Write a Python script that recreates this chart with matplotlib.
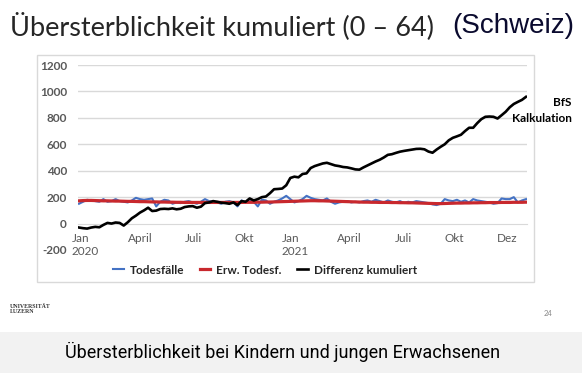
import numpy as np
import matplotlib
matplotlib.use("Agg")
import matplotlib.pyplot as plt
from matplotlib.patches import Rectangle

# weekly values, Jan 2020 ... early 2022
todesfaelle = [150, 165, 180, 175, 170, 165, 185, 165, 170, 185, 170, 165, 160, 175, 195, 185,
               180, 185, 190, 130, 165, 180, 175, 150, 160, 155, 165, 170, 160, 150, 165, 185,
               170, 165, 160, 150, 165, 170, 160, 130, 175, 160, 185, 165, 130, 180, 175, 150,
               165, 175, 190, 210, 185, 160, 170, 185, 210, 195, 185, 180, 175, 190, 165, 150,
               160, 165, 170, 160, 165, 160, 170, 175, 165, 180, 170, 160, 175, 165, 160, 170,
               155, 165, 160, 170, 165, 160, 155, 145, 140, 150, 185, 175, 170, 180, 165, 175,
               160, 185, 175, 170, 165, 160, 150, 155, 190, 185, 185, 200, 160, 175, 185]
erw_todesf = [172, 174, 175, 175, 174, 173, 172, 172, 171, 170, 170, 169, 168, 168, 167, 166,
              166, 165, 164, 164, 163, 163, 162, 162, 161, 161, 160, 160, 160, 160, 160, 160,
              160, 160, 160, 160, 160, 160, 160, 160, 160, 161, 161, 161, 162, 162, 163, 163,
              164, 165, 166, 167, 168, 169, 170, 171, 172, 173, 173, 172, 172, 171, 170, 169,
              168, 167, 166, 165, 164, 163, 162, 162, 161, 161, 160, 160, 160, 159, 159, 158,
              158, 157, 157, 156, 155, 154, 153, 152, 151, 151, 152, 153, 154, 155, 155, 156,
              156, 157, 157, 158, 158, 159, 159, 159, 160, 160, 160, 161, 161, 161, 162]
differenz = [-30, -35, -38, -30, -25, -28, -10, 5, 0, 8, 5, -15, 10, 40, 60, 83,
             100, 120, 95, 98, 110, 112, 110, 115, 108, 112, 125, 130, 132, 120, 128, 155,
             160, 170, 165, 158, 155, 150, 160, 140, 170, 165, 190, 175, 185, 200, 205, 230,
             260, 262, 265, 290, 345, 355, 350, 375, 380, 420, 435, 445, 455, 460, 450, 440,
             435, 428, 425, 418, 410, 408, 425, 440, 455, 470, 483, 500, 520, 525, 535, 544,
             550, 555, 560, 565, 566, 562, 545, 536, 560, 581, 600, 630, 649, 660, 672, 700,
             725, 725, 760, 790, 808, 810, 808, 795, 820, 846, 880, 905, 921, 936, 959]
weeks = np.arange(len(differenz))

tick_weeks = [1.5, 15.0, 28.1, 40.6, 53.2, 66.5, 79.8, 92.4, 105.4]
tick_labels = ["Jan\n2020", "April", "Juli", "Okt", "Jan\n2021", "April", "Juli", "Okt", "Dez"]
y_ticks = [-200, 0, 200, 400, 600, 800, 1000, 1200]

W, H = 582, 373
fig = plt.figure(figsize=(W / 100, H / 100), dpi=100)
fig.patch.set_facecolor("white")

# chart frame
fig.patches.append(Rectangle((37 / W, 1 - 282 / H), (534 - 37) / W, (282 - 55) / H,
                             transform=fig.transFigure, facecolor="white",
                             edgecolor="#d9d9d9", linewidth=1.0, zorder=-2))
# bottom grey band
fig.patches.append(Rectangle((0, 0), 1, (H - 332) / H, transform=fig.transFigure,
                             facecolor="#f2f2f2", edgecolor="none", zorder=-2))

ax = fig.add_axes([78 / W, 1 - 250 / H, (527 - 78) / W, (250 - 65) / H])
ax.set_facecolor("none")

grid_col = "#d9d9d9"
for y in y_ticks[2:]:
    ax.axhline(y, color=grid_col, lw=1.0, zorder=1)

ax.plot(weeks, todesfaelle, color="#4472c4", lw=1.5, zorder=3, label="Todesfälle")
ax.plot(weeks, erw_todesf, color="#c8282d", lw=2.3, zorder=4, label="Erw. Todesf.")
ax.plot(weeks, differenz, color="black", lw=1.9, zorder=5, label="Differenz kumuliert")

ax.set_xlim(-0.25, len(differenz) - 0.75)
ax.set_ylim(-200, 1200)

for s in ["top", "right", "left"]:
    ax.spines[s].set_visible(False)
ax.spines["bottom"].set_position(("data", 0))
ax.spines["bottom"].set_color(grid_col)
ax.spines["bottom"].set_zorder(1)

ax.set_yticks(y_ticks)
ax.set_yticklabels([str(v) for v in y_ticks], fontfamily="Lato", fontweight="bold",
                   fontsize=8.5, color="#595959")
ax.set_xticks(tick_weeks)
ax.set_xticklabels(tick_labels, fontfamily="Lato", fontsize=8.5, color="#595959",
                   linespacing=1.15, multialignment="left")
ax.tick_params(axis="both", length=0)
ax.tick_params(axis="y", pad=8)
ax.tick_params(axis="x", pad=7)

leg = fig.legend(loc="center", bbox_to_anchor=(265 / W, 1 - 270 / H), ncol=3,
                 frameon=False, handlelength=0.9, handletextpad=0.5, columnspacing=1.3,
                 prop={"family": "Lato", "weight": "bold", "size": 8.5})
for t in leg.get_texts():
    t.set_color("#262626")

fig.text(571 / W, 1 - 103 / H, "BfS", ha="right", va="center", fontfamily="Lato",
         fontweight="bold", fontsize=8.5, color="black")
fig.text(572 / W, 1 - 118 / H, "Kalkulation", ha="right", va="center", fontfamily="Lato",
         fontweight="bold", fontsize=8.5, color="black")

# slide titles
fig.text(10 / W, 1 - 26 / H, "Übersterblichkeit kumuliert (0 – 64)", ha="left", va="center",
         fontfamily="Lato", fontsize=19.5, color="#262626")
fig.text(574 / W, 1 - 26 / H, "(Schweiz)", ha="right", va="center",
         fontfamily="Liberation Sans", fontsize=20, color="#0a0a2e")

fig.text(10 / W, 1 - 309 / H, "UNIVERSITÄT\nLUZERN", ha="left", va="center",
         fontfamily="Liberation Serif", fontweight="bold", fontsize=4.2, color="#333333",
         linespacing=1.0)
fig.text(548 / W, 1 - 313 / H, "24", ha="center", va="center", fontfamily="Lato",
         fontsize=5.5, color="#888888")
fig.text(283 / W, 1 - 352 / H, "Übersterblichkeit bei Kindern und jungen Erwachsenen",
         ha="center", va="center", fontfamily="Roboto", fontsize=13, color="black")

fig.savefig("out.png", dpi=100)
